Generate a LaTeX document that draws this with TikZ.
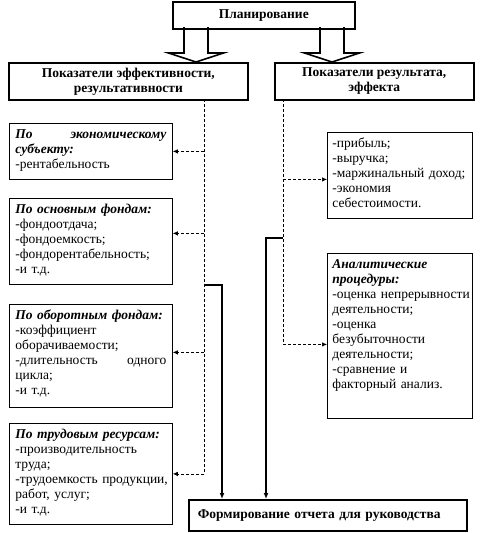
\documentclass[tikz,border=0pt]{standalone}
\usepackage{fontspec}
\setmainfont{Liberation Serif}
\usetikzlibrary{arrows.meta}

\begin{document}
\fontsize{13.5}{15}\selectfont
\begin{tikzpicture}[x=1pt, y=-1pt,
        headbox/.style={draw, line width=1.6pt, font=\bfseries, align=center, inner sep=0pt, anchor=north west},
        itembox/.style={draw, line width=0.8pt, anchor=north west, align=left, inner ysep=4pt, text height=11pt},
        leftbox/.style={itembox, inner xsep=6pt, text width=151},
        rightbox/.style={itembox, inner xsep=5pt, text width=135},
        dashline/.style={dash pattern=on 3pt off 2pt, line width=0.7pt},
        dasharrow/.style={dashline, -{Latex[length=5pt, width=4.5pt]}},
        mainline/.style={line width=1.6pt, -{Latex[length=6pt, width=5pt]}},
        hollow/.style={line width=1.6pt, line join=miter}]
        \useasboundingbox (0,0) rectangle (493,533);

        \node[headbox, minimum width=182, minimum height=27] (plan) at (172,1) {Планирование};
        \node[headbox, minimum width=239, minimum height=37] (eff) at (8,62) {Показатели эффективности,\\ результативности};
        \node[headbox, minimum width=199, minimum height=37] (res) at (274,62) {Показатели результата,\\ эффекта};

        \coordinate (tipL) at (196,62);
        \coordinate (tipR) at (332,62);
        \draw[hollow] (tipL) ++(-12,-35) -- ++(0,26) -- ++(-15.5,0) -- (tipL) -- ++(27.5,-9) -- ++(-15.5,0) -- ++(0,-26);
        \draw[hollow] (tipR) ++(-12,-35) -- ++(0,26) -- ++(-15.5,0) -- (tipR) -- ++(27.5,-9) -- ++(-15.5,0) -- ++(0,-26);

        \node[leftbox, text depth=37] (subj) at (9,123) {\textbf{\textit{По\hfill экономическому\\ субъекту:}}\\ -рентабельность};
        \node[leftbox, text depth=67] (fixed) at (9,198) {\textbf{\textit{По основным фондам:}}\\ -фондоотдача;\\ -фондоемкость;\\ -фондорентабельность;\\ -и т.д.};
        \node[leftbox, text depth=84] (circ) at (9,304) {\textbf{\textit{По оборотным фондам:}}\\ -коэффициент\\ оборачиваемости;\\ -длительность\hfill одного\\ цикла;\\ -и т.д.};
        \node[leftbox, text depth=82] (labour) at (9,423) {\mbox{\textbf{\textit{По трудовым ресурсам:}}}\\ -производительность\\ труда;\\ \mbox{-трудоемкость продукции,}\\ работ, услуг;\\ -и т.д.};

        \node[rightbox, text depth=67] (profit) at (327,132) {-прибыль;\\ -выручка;\\ \mbox{-маржинальный доход;}\\ -экономия\\ себестоимости.};
        \node[rightbox, text depth=146] (anal) at (327,253) {\textbf{\textit{Аналитические\\ процедуры:}}\\ \mbox{-оценка непрерывности}\\ деятельности;\\ -оценка\\ безубыточности\\ деятельности;\\ -сравнение и\\ факторный анализ.};

        \node[headbox, minimum width=278, minimum height=31, align=left, inner xsep=9pt, text width=260] (report) at (188,499) {Формирование отчета для руководства};

        \coordinate (dL) at (204,99);
        \coordinate (dR) at (283,99);
        \coordinate (aFixed) at ([yshift=8pt]fixed.east);
        \coordinate (aCirc) at ([yshift=3.5pt]circ.east);
        \coordinate (aProfit) at ([yshift=-4pt]profit.west);
        \coordinate (aAnal) at ([yshift=-8.5pt]anal.west);

        \draw[dashline] (dL) -- (dL |- labour.east);
        \draw[dasharrow] (dL |- subj.east) -- (subj.east);
        \draw[dasharrow] (dL |- aFixed) -- (aFixed);
        \draw[dasharrow] (dL |- aCirc) -- (aCirc);
        \draw[dasharrow] (dL |- labour.east) -- (labour.east);

        \draw[dashline] (dR) -- (dR |- aAnal);
        \draw[dasharrow] (dR |- aProfit) -- (aProfit);
        \draw[dasharrow] (dR |- aAnal) -- (aAnal);

        \coordinate (sR) at (283,238);
        \draw[mainline] (dL |- fixed.south) -| ([xshift=34pt]report.north west);
        \draw[mainline] (sR) -| ([xshift=78pt]report.north west);
    \end{tikzpicture}
\end{document}
